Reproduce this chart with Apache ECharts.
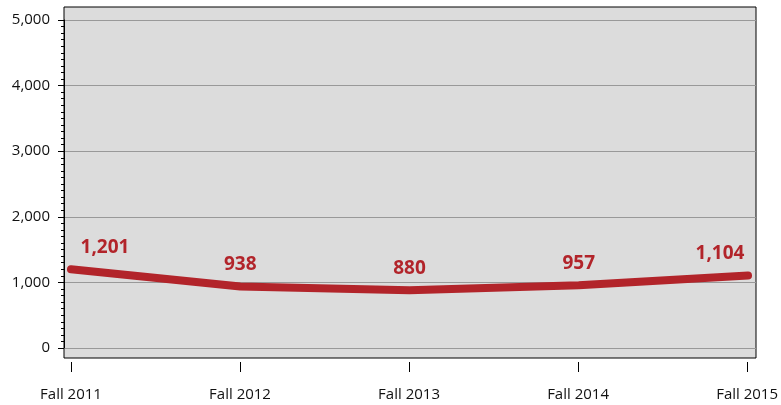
<!DOCTYPE html>
<html>
<head>
<meta charset="utf-8">
<script src="https://cdn.jsdelivr.net/npm/echarts@6/dist/echarts.min.js"></script>
<style>
  html, body { margin: 0; padding: 0; background: #fff; }
  #main { width: 781px; height: 405px; }
</style>
</head>
<body>
<div id="main"></div>
<script>
const categories = ['Fall 2011', 'Fall 2012', 'Fall 2013', 'Fall 2014', 'Fall 2015'];
const enrolled = [1201, 938, 880, 957, 1104];
const yTicks = [0, 1000, 2000, 3000, 4000, 5000];

const fontFamily = '"Open Sans", "Noto Sans", sans-serif';
const red = '#b2242a';

// first and last labels sit inward so they stay inside the frame
const labelShift = [34, 0, 0, 0, -28];

const chart = echarts.init(document.getElementById('main'));

chart.setOption({
  animation: false,
  grid: [
    // frame with grey fill
    {left: 64, right: 25, top: 7, bottom: 47, show: true, backgroundColor: '#dcdcdc', borderColor: '#000', borderWidth: 1},
    // y axis + gridlines, full frame width
    {left: 64, right: 25, top: 20, bottom: 57},
    // data area
    {left: 71, right: 33, top: 20, bottom: 57},
    // category ticks and labels, below the frame
    {left: 71, right: 33, top: 20, bottom: 43}
  ],
  xAxis: [
    {gridIndex: 0, type: 'value', show: false},
    {gridIndex: 1, type: 'value', show: false},
    {gridIndex: 2, type: 'category', data: categories, boundaryGap: false, show: false},
    {
      gridIndex: 3,
      type: 'category',
      data: categories,
      boundaryGap: false,
      axisLine: {show: false},
      axisTick: {show: true, length: 10, lineStyle: {color: '#000', width: 1}},
      axisLabel: {margin: 25, color: '#111', fontSize: 15, fontFamily: fontFamily}
    }
  ],
  yAxis: [
    {gridIndex: 0, type: 'value', show: false},
    {
      gridIndex: 1,
      type: 'value',
      min: yTicks[0],
      max: yTicks[yTicks.length - 1],
      interval: 1000,
      axisLine: {show: true, lineStyle: {color: '#000', width: 1}},
      axisTick: {show: true, length: 6, lineStyle: {color: '#000'}},
      minorTick: {show: true, splitNumber: 10, length: 3, lineStyle: {color: '#000'}},
      splitLine: {show: true, lineStyle: {color: '#999', width: 1}},
      axisLabel: {
        margin: 14,
        color: '#111',
        fontSize: 15,
        fontFamily: fontFamily,
        formatter: v => v.toLocaleString('en-US')
      }
    },
    {gridIndex: 2, type: 'value', min: 0, max: 5000, show: false},
    {gridIndex: 3, type: 'value', show: false}
  ],
  series: [
    {
      type: 'line',
      xAxisIndex: 2,
      yAxisIndex: 2,
      data: enrolled.map((v, i) => ({
        value: v,
        label: {offset: [labelShift[i], 0]}
      })),
      symbol: 'circle',
      symbolSize: 1,
      showSymbol: true,
      itemStyle: {color: red},
      lineStyle: {color: red, width: 8, cap: 'round', join: 'round'},
      label: {
        show: true,
        position: 'top',
        distance: 12,
        color: red,
        fontSize: 19,
        fontWeight: 'bold',
        fontFamily: fontFamily,
        formatter: p => p.value.toLocaleString('en-US')
      }
    }
  ]
});
</script>
</body>
</html>
